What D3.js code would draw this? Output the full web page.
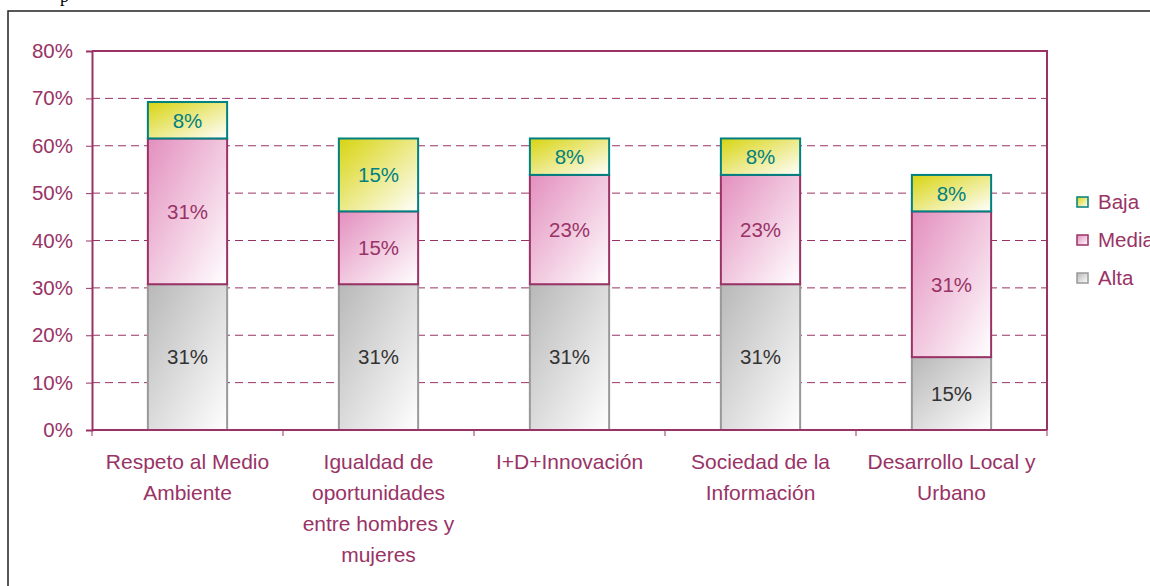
<!DOCTYPE html>
<html>
<head>
<meta charset="utf-8">
<script src="https://cdn.jsdelivr.net/npm/d3@7"></script>
<style>
  body { margin: 0; background: #fff; }
  svg { display: block; font-family: "Liberation Sans", Arial, sans-serif; }
</style>
</head>
<body>
<div id="viz"></div>
<script>
const categories = [
  ["Respeto al Medio", "Ambiente"],
  ["Igualdad de", "oportunidades", "entre hombres y", "mujeres"],
  ["I+D+Innovación"],
  ["Sociedad de la", "Información"],
  ["Desarrollo Local y", "Urbano"]
];
const alta  = [30.77, 30.77, 30.77, 30.77, 15.38];
const media = [30.77, 15.38, 23.08, 23.08, 30.77];
const baja  = [7.69, 15.38, 7.69, 7.69, 7.69];
const seriesNames = ["Alta", "Media", "Baja"];
const yTicks = [0, 10, 20, 30, 40, 50, 60, 70, 80];

const width = 1150, height = 586;
const maroon = "#993366";
const fs = "20.5px";

const svg = d3.select("#viz").append("svg")
  .attr("width", width).attr("height", height);

// gradients
const defs = svg.append("defs");
const styles = {
  Alta:  { c: "#b8b8b8", stroke: "#999999", text: "#333333" },
  Media: { c: "#e38fbe", stroke: maroon,    text: maroon },
  Baja:  { c: "#d8d410", stroke: "#008080", text: "#008080" }
};
seriesNames.forEach(n => {
  const g = defs.append("linearGradient").attr("id", "g" + n)
    .attr("x1", 0).attr("y1", 0).attr("x2", 1).attr("y2", 1);
  g.append("stop").attr("offset", "0%").attr("stop-color", styles[n].c);
  g.append("stop").attr("offset", "100%").attr("stop-color", "#ffffff");
});

// stray text cut by the top edge, as in the source picture
svg.append("text").attr("x", 60).attr("y", 2)
  .style("font-family", "Liberation Serif").style("font-size", "18px").text("p");

// outer frame
svg.append("rect").attr("x", 8).attr("y", 11).attr("width", 1300).attr("height", 800)
  .attr("fill", "none").attr("stroke", "#222").attr("stroke-width", 1.5);

const x = d3.scaleBand().domain(d3.range(categories.length)).range([92, 1047]);
const y = d3.scaleLinear().domain([0, 80]).range([430, 51]);

// grid
svg.append("g").selectAll("line").data(yTicks.filter(t => t > 0 && t < 80)).join("line")
  .attr("x1", 92).attr("x2", 1047)
  .attr("y1", d => y(d)).attr("y2", d => y(d))
  .attr("stroke", maroon).attr("stroke-width", 1)
  .attr("stroke-dasharray", "8,5");

// y axis
const yAxis = svg.append("g").attr("transform", "translate(92,0)")
  .call(d3.axisLeft(y).tickValues(yTicks).tickFormat(d => d + "%").tickSize(6).tickPadding(13));
yAxis.select(".domain").attr("stroke", maroon).attr("stroke-width", 2);
yAxis.selectAll(".tick line").attr("stroke", maroon);
yAxis.selectAll(".tick text").attr("fill", maroon)
  .style("font-size", fs).style("font-family", "Liberation Sans, Arial, sans-serif");

// plot top and right border
svg.append("path")
  .attr("d", `M92,${y(80)}H1047V${y(0)}`)
  .attr("fill", "none").attr("stroke", maroon).attr("stroke-width", 2);

// bars
const stacks = categories.map((c, i) => {
  let base = 0;
  return seriesNames.map(n => {
    const v = { Alta: alta, Media: media, Baja: baja }[n][i];
    const s = { name: n, i, y0: base, y1: base + v, v };
    base += v;
    return s;
  });
}).flat();

const barW = x.bandwidth() * 0.415;
const bars = svg.append("g");
bars.selectAll("rect").data(stacks).join("rect")
  .attr("x", d => x(d.i) + (x.bandwidth() - barW) / 2)
  .attr("width", barW)
  .attr("y", d => y(d.y1))
  .attr("height", d => y(d.y0) - y(d.y1))
  .attr("fill", d => "url(#g" + d.name + ")")
  .attr("stroke", d => styles[d.name].stroke)
  .attr("stroke-width", 2);

bars.selectAll("text").data(stacks).join("text")
  .attr("x", d => x(d.i) + x.bandwidth() / 2)
  .attr("y", d => (y(d.y0) + y(d.y1)) / 2)
  .attr("dy", "0.36em")
  .attr("text-anchor", "middle")
  .attr("fill", d => styles[d.name].text)
  .style("font-size", fs)
  .text(d => Math.round(d.v) + "%");

// x axis
svg.append("line").attr("x1", 92).attr("x2", 1047).attr("y1", y(0)).attr("y2", y(0))
  .attr("stroke", maroon).attr("stroke-width", 2);
svg.append("g").selectAll("line").data(d3.range(categories.length + 1)).join("line")
  .attr("x1", d => 92 + d * x.bandwidth()).attr("x2", d => 92 + d * x.bandwidth())
  .attr("y1", y(0)).attr("y2", y(0) + 6)
  .attr("stroke", maroon).attr("stroke-width", 1);

const labels = svg.append("g").selectAll("text").data(categories).join("text")
  .attr("text-anchor", "middle")
  .attr("fill", maroon)
  .style("font-size", "21px")
  .attr("transform", (d, i) => `translate(${x(i) + x.bandwidth() / 2},469)`);
labels.selectAll("tspan").data(d => d).join("tspan")
  .attr("x", 0).attr("y", (d, j) => j * 31).text(d => d);

// legend
const legend = svg.append("g").selectAll("g").data(seriesNames.slice().reverse()).join("g")
  .attr("transform", (d, i) => `translate(1077,${197 + i * 38})`);
legend.append("rect").attr("width", 11).attr("height", 10)
  .attr("fill", d => "url(#g" + d + ")")
  .attr("stroke", d => styles[d].stroke).attr("stroke-width", 1.5);
legend.append("text").attr("x", 21).attr("y", 12)
  .attr("fill", maroon).style("font-size", fs).text(d => d);
</script>
</body>
</html>
